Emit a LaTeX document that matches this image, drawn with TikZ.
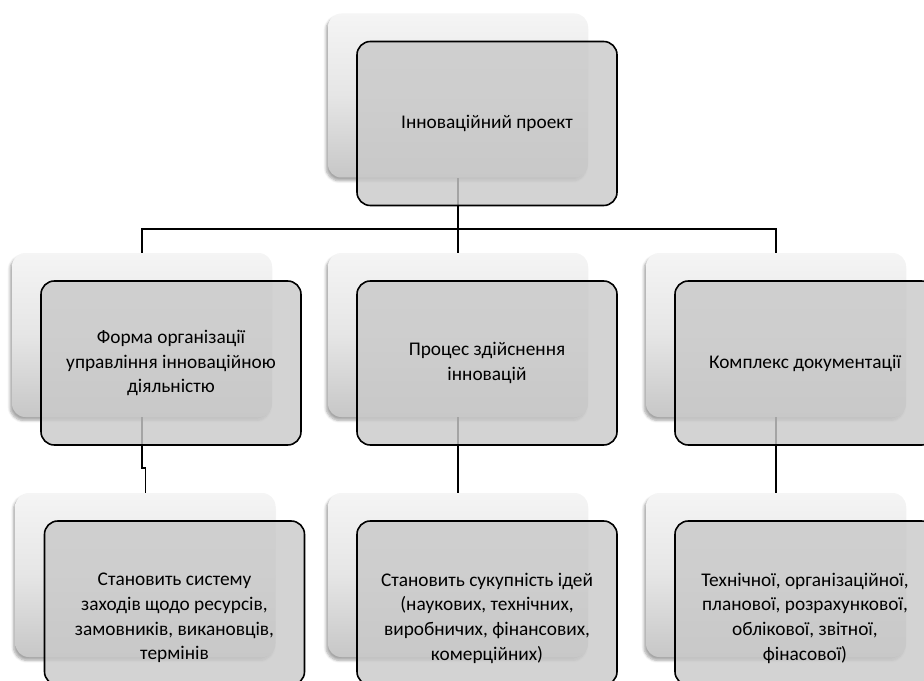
\documentclass[tikz,border=0pt]{standalone}
\usepackage{fontspec}
\setmainfont{Carlito}
\usepackage{tikz}
\usetikzlibrary{shadows.blur}

\tikzset{
  backbox/.style={rounded corners=10pt, minimum width=195pt, minimum height=123pt,
    top color=white!96!black, bottom color=black!22, middle color=white!90!black,
    draw=none, blur shadow={shadow xshift=-1.5pt, shadow yshift=-2.5pt, shadow opacity=35, shadow blur steps=6}},
  frontbox/.style={rounded corners=10pt, minimum width=195pt, minimum height=123pt,
    draw=black, line width=1.2pt, fill=black!21, fill opacity=0.82, text opacity=1},
  txt/.style={align=center, font=\fontsize{14.5pt}{18.5pt}\selectfont, text=black},
  link/.style={draw=black, line width=0.9pt}
}

\begin{document}
\begin{tikzpicture}[x=0.75pt,y=-0.75pt]
                \useasboundingbox (0,0) rectangle (924,681);
                \clip (0,0) rectangle (924,681);
                % back boxes
                \node[backbox] (btop) at (458,95.5) {};
                \node[backbox] (bm1) at (142,335) {};
                \node[backbox] (bm2) at (458,335) {};
                \node[backbox] (bm3) at (776,335) {};
                \node[backbox] (bb1) at (145.5,575) {};
                \node[backbox] (bb2) at (458,575) {};
                \node[backbox] (bb3) at (776,575) {};
                % connectors
                \coordinate (split) at (458,229);
                \coordinate (jog1) at (142,468);
                \draw[link] (btop.south) -- (split);
                \draw[link] (split) -| (bm1.north);
                \draw[link] (split) -- (bm2.north);
                \draw[link] (split) -| (bm3.north);
                \draw[link] (bm1.south) |- (jog1) -| (bb1.north);
                \draw[link] (bm2.south) -- (bb2.north);
                \draw[link] (bm3.south) -- (bb3.north);
                % front boxes
                \node[frontbox,txt] (ftop) at ([shift={(29,28)}]btop.center) {Інноваційний проект};
                \node[frontbox,txt] (fm1) at ([shift={(29,28)}]bm1.center) {Форма організації\\управління інноваційною\\діяльністю};
                \node[frontbox,txt] (fm2) at ([shift={(29,28)}]bm2.center) {Процес здійснення\\інновацій};
                \node[frontbox,txt] (fm3) at ([shift={(29,28)}]bm3.center) {Комплекс документації};
                \node[frontbox] (fb1) at ([shift={(29,28)}]bb1.center) {};
                \node[frontbox] (fb2) at ([shift={(29,28)}]bb2.center) {};
                \node[frontbox] (fb3) at ([shift={(29,28)}]bb3.center) {};
                \node[txt] (tb1) at ([shift={(0,15)}]fb1.center) {Становить систему\\заходів щодо ресурсів,\\замовників, викановців,\\термінів};
                \node[txt] (tb2) at ([shift={(0,15)}]fb2.center) {Становить сукупність ідей\\(наукових, технічних,\\виробничих, фінансових,\\комерційних)};
                \node[txt] (tb3) at ([shift={(0,15)}]fb3.center) {Технічної, організаційної,\\планової, розрахункової,\\облікової, звітної,\\фінасової)};
            \end{tikzpicture}
\end{document}
